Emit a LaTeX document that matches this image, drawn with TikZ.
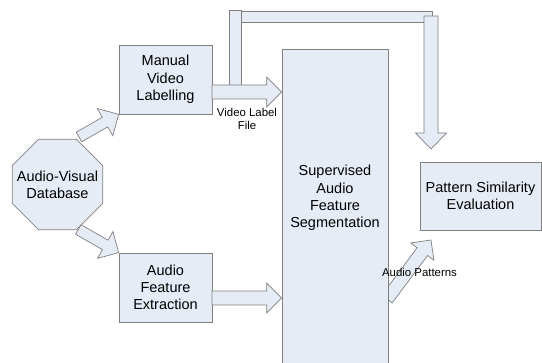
\documentclass[tikz,border=0pt]{standalone}
\usepackage{fontspec}
\setmainfont{Liberation Sans}
\usetikzlibrary{calc, shapes.geometric}

\definecolor{boxfill}{RGB}{230,236,246}
\definecolor{boxline}{RGB}{128,128,128}

% fat block arrow from #1 to #2: shaft half width #3, head half width #4, head length #5
\newcommand{\fatarrow}[5]{%
  \coordinate (hb) at ($(#2)!#5!(#1)$);
  \draw[arrowbody] ($(#1)!#3!90:(#2)$) -- ($(hb)!#3!90:(#2)$) -- ($(hb)!#4!90:(#2)$)
    -- (#2) -- ($(hb)!#4!-90:(#2)$) -- ($(hb)!#3!-90:(#2)$) -- ($(#1)!#3!-90:(#2)$) -- cycle;
}

\begin{document}
\begin{tikzpicture}[
    x=1pt, y=-1pt,
    box/.style={rectangle, draw=boxline, fill=boxfill, line width=0.7pt, align=center, inner sep=0pt},
    arrowbody/.style={draw=boxline, fill=boxfill, line width=0.7pt, line join=miter},
    bigtext/.style={font=\fontsize{14.5}{17.3}\selectfont},
    smalltext/.style={font=\fontsize{11.4}{13}\selectfont, align=center, inner sep=0pt}
]
    \useasboundingbox[fill=white] (0,0) rectangle (542,363);

    % blocks
    \node[box, regular polygon, regular polygon sides=8, minimum size=98pt,
          label={[bigtext, align=center]center:Audio-Visual\\Database}] (db) at (57.5,184.5) {};
    \node[box, minimum width=93pt, minimum height=69pt, bigtext] (man) at (165.5,79.5) {Manual\\Video\\Labelling};
    \node[box, minimum width=93pt, minimum height=69pt, bigtext] (ext) at (165.5,287.5) {Audio\\Feature\\Extraction};
    \node[box, minimum width=121pt, minimum height=68pt, bigtext] (pse) at (480.5,196) {Pattern Similarity\\Evaluation};

    % audio patterns go out of the segmentation block
    \coordinate (apo) at (387,299);
    \coordinate (api) at (431,240);
    \fatarrow{apo}{api}{6.5pt}{14.5pt}{14.5pt}

    \node[box, minimum width=106pt, minimum height=320pt] (seg) at (335,209) {};
    \node[align=center, bigtext] (segtxt) at (335,198) {Supervised\\Audio\\Feature\\Segmentation};

    % database feeds both front ends
    \coordinate (dbu) at (79,137);
    \coordinate (dbl) at (78.3,229.5);
    \fatarrow{dbu}{man.south west}{5.5pt}{15.7pt}{15.7pt}
    \fatarrow{dbl}{ext.north west}{5.5pt}{15.5pt}{15.5pt}

    % label file branch over the top to the evaluation
    \draw[arrowbody] (241,11) rectangle (432,22);
    \draw[arrowbody] (229,10) rectangle (241,86);

    \coordinate (mo) at (212,92);
    \coordinate (mi) at (seg.west |- mo);
    \coordinate (eo) at (212,298);
    \coordinate (ei) at (seg.west |- eo);
    \fatarrow{mo}{mi}{7pt}{15pt}{15pt}
    \fatarrow{eo}{ei}{7pt}{15pt}{15pt}

    \coordinate (dn0) at (431,16);
    \coordinate (dn1) at (431,149);
    \fatarrow{dn0}{dn1}{7pt}{15.5pt}{16pt}

    % labels
    \node[smalltext] (vlf) at (247,118.5) {Video Label\\File};
    \node[smalltext] (apl) at (419.5,272) {Audio Patterns};
\end{tikzpicture}
\end{document}
